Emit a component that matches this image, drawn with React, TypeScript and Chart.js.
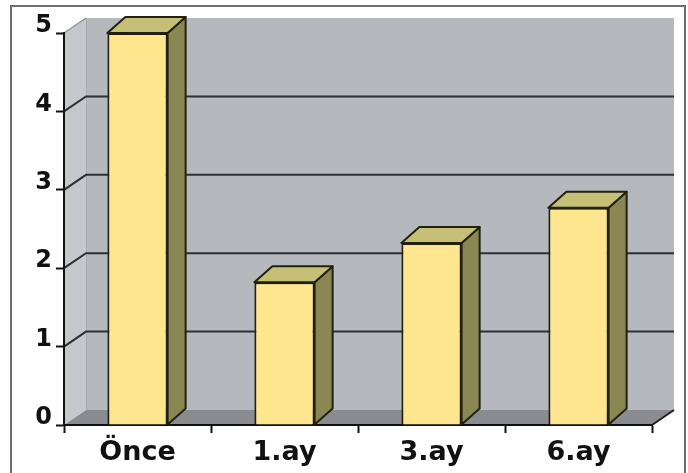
import { useEffect, useRef } from "react";
import { Chart, registerables } from "chart.js";

Chart.register(...registerables);

const categories = ["Önce", "1.ay", "3.ay", "6.ay"];
const values = [5, 1.82, 2.32, 2.77];
const yMin = 0;
const yMax = 5;
const yStep = 1;

const WALL_DX = 22;
const WALL_DY = -15;
const BAR_DX = 18;
const BAR_DY = -16;

const FONT = '"DejaVu Sans", "Liberation Sans", Arial, sans-serif';

function poly(ctx: CanvasRenderingContext2D, pts: number[][], fill?: string, stroke?: string, lw = 2) {
  ctx.beginPath();
  ctx.moveTo(pts[0][0], pts[0][1]);
  for (let i = 1; i < pts.length; i++) ctx.lineTo(pts[i][0], pts[i][1]);
  ctx.closePath();
  if (fill) {
    ctx.fillStyle = fill;
    ctx.fill();
  }
  if (stroke) {
    ctx.strokeStyle = stroke;
    ctx.lineWidth = lw;
    ctx.lineJoin = "round";
    ctx.stroke();
  }
}

const threeD = {
  id: "threeD",
  beforeDraw(chart: any) {
    const { ctx, chartArea: a, scales } = chart;
    const ys = scales.y;
    ctx.save();
    // left wall
    poly(ctx, [
      [a.left, a.top],
      [a.left + WALL_DX, a.top + WALL_DY],
      [a.left + WALL_DX, a.bottom + WALL_DY],
      [a.left, a.bottom],
    ], "#c4c8cc");
    // back wall
    ctx.fillStyle = "#b5b9bd";
    ctx.fillRect(a.left + WALL_DX, a.top + WALL_DY, a.right - a.left, a.bottom - a.top);
    // back wall left edge
    ctx.strokeStyle = "#a9adb1";
    ctx.lineWidth = 1;
    ctx.beginPath();
    ctx.moveTo(a.left + WALL_DX + 0.5, a.top + WALL_DY);
    ctx.lineTo(a.left + WALL_DX + 0.5, a.bottom + WALL_DY);
    ctx.stroke();
    // floor
    poly(ctx, [
      [a.left, a.bottom],
      [a.left + WALL_DX, a.bottom + WALL_DY],
      [a.right + WALL_DX, a.bottom + WALL_DY],
      [a.right, a.bottom],
    ], "#8b8c92");
    // gridlines
    for (let v = yMin + yStep; v < yMax; v += yStep) {
      const py = ys.getPixelForValue(v);
      ctx.strokeStyle = "#2e3133";
      ctx.lineWidth = 2;
      ctx.beginPath();
      ctx.moveTo(a.left, py);
      ctx.lineTo(a.left + WALL_DX, py + WALL_DY);
      ctx.lineTo(a.right + WALL_DX, py + WALL_DY);
      ctx.stroke();
    }
    // top diagonal (max value)
    const pTop = ys.getPixelForValue(yMax);
    ctx.strokeStyle = "#8f9397";
    ctx.lineWidth = 1.5;
    ctx.beginPath();
    ctx.moveTo(a.left, pTop);
    ctx.lineTo(a.left + WALL_DX, pTop + WALL_DY);
    ctx.stroke();
    // floor right edge
    ctx.strokeStyle = "#1e1e1e";
    ctx.lineWidth = 2;
    ctx.beginPath();
    ctx.moveTo(a.right, a.bottom);
    ctx.lineTo(a.right + WALL_DX, a.bottom + WALL_DY);
    ctx.stroke();
    ctx.restore();
  },
  afterDatasetsDraw(chart: any) {
    const { ctx } = chart;
    const meta = chart.getDatasetMeta(0);
    ctx.save();
    meta.data.forEach((bar: any) => {
      const { x, y, base, width } = bar.getProps(["x", "y", "base", "width"], true);
      const l = x - width / 2;
      const r = x + width / 2;
      // side face
      poly(ctx, [
        [r, y],
        [r + BAR_DX, y + BAR_DY],
        [r + BAR_DX, base + BAR_DY],
        [r, base],
      ], "#8b8752", "#22210f", 2);
      // top face
      poly(ctx, [
        [l, y],
        [l + BAR_DX, y + BAR_DY],
        [r + BAR_DX, y + BAR_DY],
        [r, y],
      ], "#c6bf76", "#22210f", 2);
    });
    ctx.restore();
  },
  afterDraw(chart: any) {
    const { ctx } = chart;
    ctx.save();
    ctx.strokeStyle = "#6e6e6e";
    ctx.lineWidth = 2;
    ctx.beginPath();
    ctx.moveTo(11, 473);
    ctx.lineTo(11, 6);
    ctx.lineTo(685, 6);
    ctx.lineTo(685, 473);
    ctx.stroke();
    ctx.restore();
  },
};

export default function App() {
  const ref = useRef<HTMLCanvasElement | null>(null);

  useEffect(() => {
    document.body.style.margin = "0";
    const canvas = ref.current;
    if (!canvas) return;
    const chart = new Chart(canvas, {
      type: "bar",
      data: {
        labels: categories,
        datasets: [
          {
            data: values,
            backgroundColor: "#fde68e",
            borderColor: "#22210f",
            borderWidth: 2,
            barPercentage: 0.41,
            categoryPercentage: 1,
          },
        ],
      },
      options: {
        animation: false,
        responsive: false,
        devicePixelRatio: 1,
        layout: { padding: { left: 0, top: 33, right: 36, bottom: 0 } },
        plugins: {
          legend: { display: false },
          tooltip: { enabled: false },
        },
        scales: {
          x: {
            afterFit: (s: any) => {
              s.height = 48;
            },
            grid: {
              display: true,
              drawOnChartArea: false,
              drawTicks: true,
              tickLength: 8,
              tickWidth: 2,
              tickColor: "#111",
              offset: true,
            },
            border: { display: true, color: "#111", width: 2 },
            ticks: {
              color: "#111",
              padding: 4,
              font: { family: FONT, size: 27, weight: "bold" },
            },
          },
          y: {
            min: yMin,
            max: yMax,
            afterFit: (s: any) => {
              s.width = 64;
            },
            grid: {
              display: true,
              drawOnChartArea: false,
              drawTicks: true,
              tickLength: 8,
              tickWidth: 2,
              tickColor: "#111",
            },
            border: { display: true, color: "#111", width: 2 },
            ticks: {
              stepSize: yStep,
              color: "#111",
              padding: 4,
              labelOffset: -7,
              font: { family: FONT, size: 24, weight: "bold" },
            },
          },
        },
      },
      plugins: [threeD],
    });
    return () => chart.destroy();
  }, []);

  return (
    <div style={{ position: "absolute", left: 0, top: 0, width: 688, height: 473, background: "#fff" }}>
      <canvas ref={ref} width={688} height={473} />
    </div>
  );
}
